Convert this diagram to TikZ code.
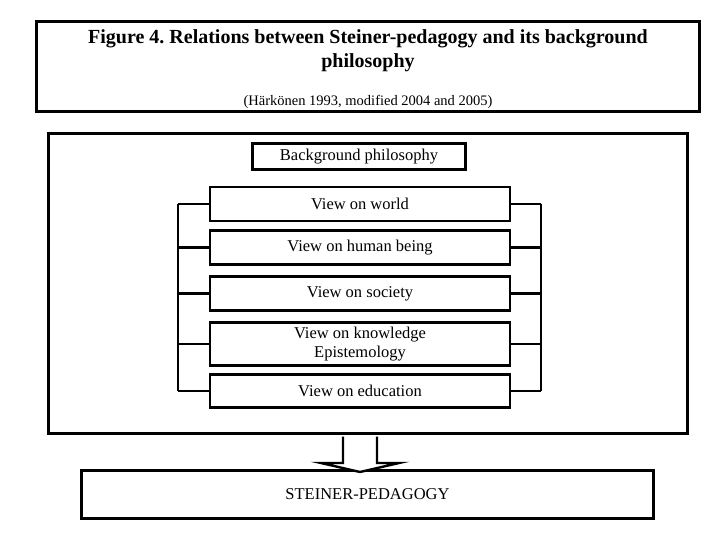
\documentclass[tikz,border=0pt]{standalone}
\usepackage{fontspec}
\setmainfont{Liberation Serif}
\usetikzlibrary{positioning}
\frenchspacing

\tikzset{
    frame/.style={draw, line width=2.6pt, inner sep=0pt},
    viewbox/.style={draw, line width=2.4pt, minimum width=300pt, inner sep=0pt, align=center, font=\fontsize{16.5}{19}\selectfont},
    bracket/.style={line width=2.6pt},
    blockarrow/.style={draw, line width=2.4pt, fill=white, line join=miter},
}

\begin{document}
\begin{tikzpicture}[x=1pt,y=-1pt]
    \useasboundingbox (0,0) rectangle (720,540);

    %title box
    \node[frame, minimum width=663pt, minimum height=90pt] (titlebox) at (368,66.5) {};
    \node[align=center, font=\bfseries\fontsize{20}{24}\selectfont] (title) at (368,51) {Figure 4. Relations between Steiner-pedagogy and its background\\philosophy};
    \node[font=\fontsize{14.5}{16}\selectfont] (source) at (368,102) {(Härkönen 1993, modified 2004 and 2005)};

    %big frame
    \node[frame, minimum width=639pt, minimum height=300pt] (frame) at (368,283.5) {};
    \node[viewbox, minimum width=213pt, minimum height=26pt] (bg) at (359,156.5) {Background philosophy};

    %views
    \node[viewbox, minimum height=34pt] (world) at (360,204) {View on world};
    \node[viewbox, minimum height=34pt] (human) at (360,247.5) {View on human being};
    \node[viewbox, minimum height=34pt] (society) at (360,293.5) {View on society};
    \node[viewbox, minimum height=43pt] (knowledge) at (360,344) {View on knowledge\\Epistemology};
    \node[viewbox, minimum height=33pt] (education) at (360,391) {View on education};

    %brackets
    \coordinate (lx) at (178,0);
    \coordinate (rx) at (541,0);
    \foreach \v in {world,human,society,knowledge,education}{
        \draw[bracket] (\v.west) -- (\v.west -| lx);
        \draw[bracket] (\v.east) -- (\v.east -| rx);
    }
    \draw[bracket] (world.west -| lx) -- (education.west -| lx);
    \draw[bracket] (world.east -| rx) -- (education.east -| rx);

    %result
    \node[frame, minimum width=572pt, minimum height=48pt, font=\fontsize{16.5}{19}\selectfont] (steiner) at (367.5,494.5) {STEINER-PEDAGOGY};

    %arrow down
    \coordinate (arrtop) at (360,436.5);
    \coordinate (arrtip) at (360,472);
    \path[blockarrow] (arrtop) ++(-17,0) -- ++(0,26.5) -- ++(-22,0) -- (arrtip) -- ++(39,-9) -- ++(-22,0) -- ++(0,-26.5);

\end{tikzpicture}
\end{document}
